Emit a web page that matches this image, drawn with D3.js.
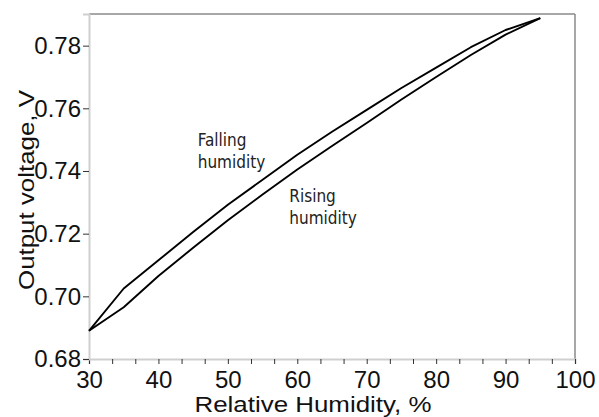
<!DOCTYPE html>
<html>
<head>
<meta charset="utf-8">
<script src="https://cdn.jsdelivr.net/npm/d3@7"></script>
<style>
  body { margin: 0; background: #fff; }
  svg { display: block; font-family: "Liberation Sans", Arial, sans-serif; }
  .note { font-family: "DejaVu Sans Condensed", "DejaVu Sans", sans-serif; font-stretch: condensed; font-size: 17px; fill: #222; }
</style>
</head>
<body>
<svg width="599" height="417"></svg>
<script>
// humidity steps, %
const humidity = [30, 35, 40, 45, 50, 55, 60, 65, 70, 75, 80, 85, 90, 95];
// output voltage while humidity falls (upper branch)
const fallingV = [0.689, 0.7025, 0.7115, 0.7205, 0.7292, 0.7372, 0.7452, 0.7525, 0.7595, 0.7665, 0.773, 0.7795, 0.785, 0.7888];
// output voltage while humidity rises (lower branch)
const risingV = [0.689, 0.6965, 0.7065, 0.7155, 0.7243, 0.7325, 0.7405, 0.748, 0.7553, 0.7628, 0.770, 0.777, 0.7835, 0.7888];

const xTicks = [30, 40, 50, 60, 70, 80, 90, 100];
const yTicks = [0.68, 0.70, 0.72, 0.74, 0.76, 0.78];

const svg = d3.select("svg"),
    margin = { top: 14, right: 24, bottom: 58, left: 89 },
    width = +svg.attr("width") - margin.left - margin.right,
    height = +svg.attr("height") - margin.top - margin.bottom,
    g = svg.append("g").attr("transform", `translate(${margin.left},${margin.top})`);

const x = d3.scaleLinear().domain([30, 100]).range([0, width]),
    y = d3.scaleLinear().domain([0.68, 0.7901]).range([height, 0]);

// frame: top and right darker, left and bottom light
g.append("line").attr("x1", 0).attr("x2", width).attr("y1", 0).attr("y2", 0)
    .attr("stroke", "#8a8a8a").attr("stroke-width", 1.5);
g.append("line").attr("x1", width).attr("x2", width).attr("y1", 0).attr("y2", height)
    .attr("stroke", "#8a8a8a").attr("stroke-width", 1.5);

// minor ticks every 10/3 on x
const minorX = d3.range(0, 22).map(i => 30 + i * 10 / 3);

const xAxis = g.append("g")
    .attr("transform", `translate(0,${height})`)
    .call(d3.axisBottom(x).tickValues(minorX).tickSize(5).tickFormat(""));
xAxis.select(".domain").attr("stroke", "#cfcfcf").attr("stroke-width", 2);
xAxis.selectAll(".tick line").attr("stroke", "#333");

const xLabels = g.append("g")
    .attr("transform", `translate(0,${height})`)
    .call(d3.axisBottom(x).tickValues(xTicks).tickSize(0).tickPadding(12).tickFormat(d3.format("d")));
xLabels.select(".domain").remove();
xLabels.selectAll("text").attr("font-size", 24).attr("fill", "#111")
    .attr("font-family", "Liberation Sans, Arial, sans-serif");

const yAxis = g.append("g")
    .call(d3.axisLeft(y).tickValues(yTicks).tickSize(6).tickPadding(2).tickFormat(d3.format(".2f")));
yAxis.select(".domain").attr("stroke", "#cfcfcf").attr("stroke-width", 2);
yAxis.selectAll(".tick line").attr("stroke", "#333");
yAxis.selectAll("text").attr("font-size", 24).attr("fill", "#111")
    .attr("font-family", "Liberation Sans, Arial, sans-serif");

// curves
const line = d3.line()
    .x((d, i) => x(humidity[i]))
    .y(d => y(d));

[fallingV, risingV].forEach(series => {
    g.append("path")
        .datum(series)
        .attr("fill", "none")
        .attr("stroke", "#000")
        .attr("stroke-width", 1.9)
        .attr("stroke-linejoin", "round")
        .attr("d", line);
});

// notes
const notes = [
    { lines: ["Falling", "humidity"], hx: 45.66, vy: 0.7480 },
    { lines: ["Rising", "humidity"], hx: 58.85, vy: 0.7302 }
];
notes.forEach(n => {
    const t = g.append("text").attr("class", "note")
        .attr("x", x(n.hx)).attr("y", y(n.vy));
    n.lines.forEach((s, i) => {
        t.append("tspan").attr("x", x(n.hx)).attr("dy", i === 0 ? 0 : 22).text(s);
    });
});

// axis titles
svg.append("text")
    .attr("x", 313).attr("y", 412)
    .attr("text-anchor", "middle")
    .attr("font-size", 22).attr("fill", "#111")
    .attr("textLength", 237).attr("lengthAdjust", "spacingAndGlyphs")
    .text("Relative Humidity, %");

svg.append("text")
    .attr("transform", "translate(34,190) rotate(-90)")
    .attr("text-anchor", "middle")
    .attr("font-size", 22).attr("fill", "#111")
    .attr("textLength", 200).attr("lengthAdjust", "spacingAndGlyphs")
    .text("Output voltage, V");
</script>
</body>
</html>
